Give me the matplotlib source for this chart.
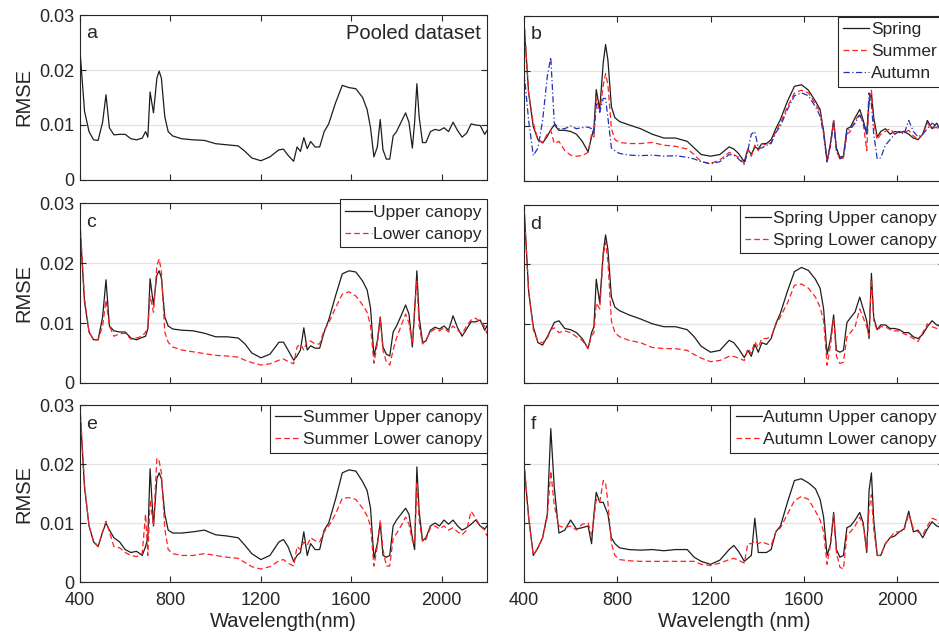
import matplotlib
matplotlib.use("Agg")
import matplotlib.pyplot as plt
import numpy as np

plt.rcParams['font.family'] = ['Liberation Sans', 'DejaVu Sans']

# wavelength grid (nm) shared by every curve
wavelength = [400, 420, 440, 460, 480, 500, 515, 530, 550, 575, 600, 625, 650, 675,
              690, 700, 710, 725, 740, 750, 760, 775, 790, 810,
              850, 900, 950, 1000, 1050, 1100, 1130, 1160, 1200,
              1240, 1280, 1300, 1320, 1345,
              1360, 1375, 1390, 1405, 1420, 1440, 1460, 1480, 1500,
              1530, 1560, 1590, 1620, 1650, 1670, 1685, 1700, 1715, 1728, 1740, 1755, 1770, 1785, 1800,
              1820, 1840, 1855, 1870, 1880, 1890, 1900, 1915, 1930, 1950,
              1970, 1990, 2010, 2030, 2050, 2070, 2090, 2110, 2130, 2150, 2170, 2190, 2200]

# a) pooled dataset
pooled = [0.0235, 0.0125, 0.0088, 0.0073, 0.0072, 0.0105, 0.0155, 0.0095, 0.0082, 0.0083, 0.0083, 0.0075, 0.0073, 0.0076,
          0.0088, 0.0078, 0.0160, 0.0122, 0.0185, 0.0198, 0.0185, 0.0115, 0.0088, 0.0080,
          0.0075, 0.0073, 0.0072, 0.0066, 0.0064, 0.0062, 0.0052, 0.0040, 0.0035,
          0.0042, 0.0055, 0.0056, 0.0045, 0.0034,
          0.0060, 0.0052, 0.0077, 0.0057, 0.0070, 0.0060, 0.0060, 0.0088, 0.0102,
          0.0140, 0.0172, 0.0168, 0.0166, 0.0150, 0.0128, 0.0095, 0.0042, 0.0060, 0.0110, 0.0055, 0.0038, 0.0038, 0.0080, 0.0088,
          0.0105, 0.0122, 0.0105, 0.0058, 0.0105, 0.0175, 0.0115, 0.0068, 0.0068, 0.0088,
          0.0092, 0.0090, 0.0095, 0.0088, 0.0105, 0.0090, 0.0078, 0.0085, 0.0102, 0.0100, 0.0099, 0.0083, 0.0090]

# b) seasons
spring = [0.0290, 0.0160, 0.0099, 0.0075, 0.0069, 0.0081, 0.0093, 0.0102, 0.0092, 0.0092, 0.0090, 0.0085, 0.0072, 0.0053,
          0.0080, 0.0095, 0.0166, 0.0130, 0.0215, 0.0248, 0.0220, 0.0135, 0.0115, 0.0108,
          0.0102, 0.0095, 0.0085, 0.0078, 0.0078, 0.0072, 0.0060, 0.0048, 0.0045,
          0.0048, 0.0062, 0.0058, 0.0050, 0.0035,
          0.0058, 0.0048, 0.0062, 0.0058, 0.0068, 0.0068, 0.0075, 0.0095, 0.0112,
          0.0145, 0.0172, 0.0175, 0.0165, 0.0145, 0.0130, 0.0090, 0.0035, 0.0070, 0.0110, 0.0060, 0.0043, 0.0045, 0.0095, 0.0098,
          0.0115, 0.0130, 0.0110, 0.0085, 0.0145, 0.0160, 0.0115, 0.0080, 0.0090, 0.0095,
          0.0085, 0.0090, 0.0088, 0.0090, 0.0085, 0.0078, 0.0075, 0.0085, 0.0110, 0.0095, 0.0105, 0.0090, 0.0090]
summer = [0.0294, 0.0160, 0.0105, 0.0075, 0.0070, 0.0085, 0.0092, 0.0068, 0.0072, 0.0055, 0.0047, 0.0045, 0.0046, 0.0052,
          0.0085, 0.0080, 0.0150, 0.0125, 0.0175, 0.0195, 0.0175, 0.0095, 0.0075, 0.0070,
          0.0068, 0.0068, 0.0070, 0.0065, 0.0063, 0.0058, 0.0048, 0.0035, 0.0032,
          0.0038, 0.0052, 0.0048, 0.0043, 0.0032,
          0.0058, 0.0045, 0.0065, 0.0055, 0.0068, 0.0065, 0.0070, 0.0090, 0.0105,
          0.0135, 0.0160, 0.0165, 0.0160, 0.0140, 0.0125, 0.0090, 0.0035, 0.0065, 0.0110, 0.0055, 0.0040, 0.0042, 0.0085, 0.0090,
          0.0110, 0.0122, 0.0105, 0.0055, 0.0145, 0.0165, 0.0105, 0.0075, 0.0085, 0.0090,
          0.0095, 0.0085, 0.0090, 0.0088, 0.0092, 0.0082, 0.0075, 0.0085, 0.0105, 0.0095, 0.0098, 0.0085, 0.0085]
autumn = [0.0200, 0.0110, 0.0046, 0.0060, 0.0110, 0.0190, 0.0225, 0.0105, 0.0095, 0.0095, 0.0100, 0.0095, 0.0097, 0.0098,
          0.0095, 0.0085, 0.0140, 0.0125, 0.0150, 0.0150, 0.0115, 0.0060, 0.0055, 0.0050,
          0.0047, 0.0046, 0.0047, 0.0045, 0.0046, 0.0043, 0.0040, 0.0035, 0.0031,
          0.0035, 0.0048, 0.0047, 0.0040, 0.0030,
          0.0055, 0.0085, 0.0090, 0.0060, 0.0060, 0.0065, 0.0068, 0.0088, 0.0100,
          0.0130, 0.0155, 0.0160, 0.0155, 0.0135, 0.0118, 0.0085, 0.0035, 0.0068, 0.0105, 0.0055, 0.0040, 0.0045, 0.0090, 0.0095,
          0.0105, 0.0120, 0.0105, 0.0085, 0.0160, 0.0140, 0.0085, 0.0040, 0.0042, 0.0065,
          0.0075, 0.0085, 0.0090, 0.0085, 0.0110, 0.0090, 0.0080, 0.0085, 0.0095, 0.0105, 0.0100, 0.0095, 0.0092]

# c) canopy layers
upper = [0.0260, 0.0135, 0.0085, 0.0072, 0.0072, 0.0110, 0.0172, 0.0095, 0.0087, 0.0085, 0.0085, 0.0075, 0.0072, 0.0076,
         0.0078, 0.0090, 0.0174, 0.0130, 0.0180, 0.0187, 0.0175, 0.0110, 0.0095, 0.0090,
         0.0088, 0.0087, 0.0083, 0.0077, 0.0077, 0.0075, 0.0065, 0.0050, 0.0042,
         0.0048, 0.0068, 0.0068, 0.0055, 0.0038,
         0.0045, 0.0055, 0.0092, 0.0055, 0.0062, 0.0058, 0.0058, 0.0085, 0.0105,
         0.0145, 0.0182, 0.0187, 0.0185, 0.0170, 0.0155, 0.0125, 0.0045, 0.0070, 0.0110, 0.0060, 0.0048, 0.0045, 0.0085, 0.0095,
         0.0112, 0.0130, 0.0115, 0.0060, 0.0120, 0.0187, 0.0110, 0.0068, 0.0070, 0.0088,
         0.0093, 0.0090, 0.0095, 0.0088, 0.0112, 0.0092, 0.0078, 0.0090, 0.0102, 0.0102, 0.0105, 0.0088, 0.0095]
lower = [0.0270, 0.0140, 0.0085, 0.0072, 0.0072, 0.0095, 0.0138, 0.0095, 0.0078, 0.0082, 0.0083, 0.0073, 0.0075, 0.0078,
         0.0085, 0.0090, 0.0145, 0.0118, 0.0195, 0.0207, 0.0185, 0.0085, 0.0068, 0.0060,
         0.0055, 0.0052, 0.0049, 0.0046, 0.0045, 0.0043, 0.0038, 0.0034, 0.0030,
         0.0032, 0.0038, 0.0040, 0.0036, 0.0032,
         0.0060, 0.0065, 0.0055, 0.0070, 0.0070, 0.0065, 0.0065, 0.0088, 0.0100,
         0.0125, 0.0148, 0.0152, 0.0145, 0.0130, 0.0118, 0.0095, 0.0033, 0.0065, 0.0108, 0.0055, 0.0035, 0.0030, 0.0055, 0.0075,
         0.0095, 0.0115, 0.0100, 0.0065, 0.0125, 0.0170, 0.0095, 0.0065, 0.0072, 0.0085,
         0.0090, 0.0087, 0.0092, 0.0085, 0.0095, 0.0088, 0.0082, 0.0095, 0.0105, 0.0108, 0.0102, 0.0095, 0.0082]

# d) spring upper / lower
spring_upper = [0.0300, 0.0155, 0.0095, 0.0068, 0.0064, 0.0078, 0.0090, 0.0102, 0.0105, 0.0092, 0.0090, 0.0085, 0.0075, 0.0058,
                0.0085, 0.0095, 0.0175, 0.0135, 0.0220, 0.0250, 0.0225, 0.0145, 0.0128, 0.0122,
                0.0115, 0.0108, 0.0100, 0.0095, 0.0095, 0.0090, 0.0078, 0.0062, 0.0052,
                0.0055, 0.0072, 0.0068, 0.0058, 0.0043,
                0.0055, 0.0045, 0.0065, 0.0052, 0.0068, 0.0065, 0.0075, 0.0100, 0.0118,
                0.0155, 0.0188, 0.0195, 0.0190, 0.0175, 0.0160, 0.0125, 0.0048, 0.0075, 0.0115, 0.0055, 0.0052, 0.0055, 0.0102, 0.0110,
                0.0120, 0.0145, 0.0125, 0.0105, 0.0075, 0.0185, 0.0110, 0.0090, 0.0098, 0.0098,
                0.0092, 0.0092, 0.0090, 0.0085, 0.0085, 0.0078, 0.0075, 0.0082, 0.0095, 0.0105, 0.0098, 0.0095, 0.0090]
spring_lower = [0.0300, 0.0155, 0.0090, 0.0070, 0.0068, 0.0075, 0.0090, 0.0093, 0.0085, 0.0088, 0.0085, 0.0078, 0.0072, 0.0058,
                0.0080, 0.0085, 0.0135, 0.0125, 0.0215, 0.0238, 0.0205, 0.0105, 0.0085, 0.0078,
                0.0072, 0.0068, 0.0060, 0.0058, 0.0058, 0.0055, 0.0048, 0.0042, 0.0036,
                0.0038, 0.0045, 0.0045, 0.0042, 0.0038,
                0.0058, 0.0050, 0.0070, 0.0060, 0.0075, 0.0075, 0.0078, 0.0098, 0.0112,
                0.0135, 0.0165, 0.0167, 0.0160, 0.0145, 0.0128, 0.0105, 0.0030, 0.0065, 0.0110, 0.0045, 0.0033, 0.0035, 0.0078, 0.0085,
                0.0095, 0.0125, 0.0110, 0.0095, 0.0080, 0.0175, 0.0105, 0.0088, 0.0095, 0.0095,
                0.0090, 0.0088, 0.0088, 0.0083, 0.0080, 0.0075, 0.0070, 0.0085, 0.0100, 0.0095, 0.0092, 0.0088, 0.0088]

# e) summer upper / lower
summer_upper = [0.0290, 0.0160, 0.0095, 0.0068, 0.0060, 0.0085, 0.0100, 0.0088, 0.0075, 0.0068, 0.0055, 0.0050, 0.0052, 0.0045,
                0.0060, 0.0075, 0.0192, 0.0095, 0.0175, 0.0185, 0.0175, 0.0115, 0.0088, 0.0083,
                0.0083, 0.0085, 0.0088, 0.0080, 0.0078, 0.0075, 0.0062, 0.0048, 0.0038,
                0.0045, 0.0068, 0.0072, 0.0060, 0.0035,
                0.0045, 0.0050, 0.0085, 0.0045, 0.0065, 0.0055, 0.0055, 0.0088, 0.0100,
                0.0140, 0.0185, 0.0190, 0.0188, 0.0170, 0.0155, 0.0125, 0.0040, 0.0065, 0.0100, 0.0045, 0.0042, 0.0045, 0.0095, 0.0105,
                0.0115, 0.0125, 0.0115, 0.0075, 0.0055, 0.0195, 0.0120, 0.0070, 0.0075, 0.0095,
                0.0100, 0.0095, 0.0105, 0.0098, 0.0105, 0.0095, 0.0088, 0.0092, 0.0098, 0.0105, 0.0095, 0.0090, 0.0095]
summer_lower = [0.0300, 0.0165, 0.0095, 0.0070, 0.0060, 0.0085, 0.0103, 0.0085, 0.0060, 0.0058, 0.0050, 0.0045, 0.0043, 0.0048,
                0.0115, 0.0045, 0.0140, 0.0095, 0.0210, 0.0205, 0.0185, 0.0090, 0.0055, 0.0048,
                0.0045, 0.0045, 0.0048, 0.0045, 0.0042, 0.0040, 0.0033, 0.0026, 0.0022,
                0.0026, 0.0036, 0.0038, 0.0032, 0.0027,
                0.0060, 0.0055, 0.0068, 0.0062, 0.0075, 0.0070, 0.0068, 0.0085, 0.0095,
                0.0115, 0.0142, 0.0143, 0.0140, 0.0125, 0.0112, 0.0095, 0.0027, 0.0060, 0.0105, 0.0055, 0.0027, 0.0027, 0.0075, 0.0082,
                0.0095, 0.0110, 0.0098, 0.0070, 0.0065, 0.0170, 0.0105, 0.0068, 0.0072, 0.0092,
                0.0095, 0.0090, 0.0095, 0.0088, 0.0092, 0.0085, 0.0080, 0.0088, 0.0120, 0.0108, 0.0095, 0.0088, 0.0078]

# f) autumn upper / lower
autumn_upper = [0.0200, 0.0110, 0.0045, 0.0058, 0.0075, 0.0115, 0.0260, 0.0160, 0.0083, 0.0088, 0.0105, 0.0090, 0.0092, 0.0095,
                0.0065, 0.0115, 0.0152, 0.0135, 0.0135, 0.0125, 0.0115, 0.0075, 0.0065, 0.0058,
                0.0055, 0.0054, 0.0055, 0.0053, 0.0055, 0.0055, 0.0042, 0.0035, 0.0030,
                0.0037, 0.0055, 0.0062, 0.0052, 0.0035,
                0.0040, 0.0045, 0.0108, 0.0050, 0.0050, 0.0050, 0.0055, 0.0085, 0.0095,
                0.0135, 0.0172, 0.0175, 0.0168, 0.0158, 0.0140, 0.0110, 0.0045, 0.0065, 0.0118, 0.0055, 0.0042, 0.0045, 0.0092, 0.0095,
                0.0105, 0.0118, 0.0100, 0.0050, 0.0155, 0.0185, 0.0105, 0.0045, 0.0045, 0.0065,
                0.0075, 0.0078, 0.0085, 0.0090, 0.0120, 0.0085, 0.0088, 0.0075, 0.0090, 0.0102, 0.0095, 0.0092, 0.0095]
autumn_lower = [0.0205, 0.0110, 0.0045, 0.0058, 0.0075, 0.0110, 0.0188, 0.0130, 0.0095, 0.0092, 0.0095, 0.0088, 0.0098, 0.0100,
                0.0080, 0.0108, 0.0140, 0.0135, 0.0172, 0.0168, 0.0135, 0.0065, 0.0045, 0.0038,
                0.0036, 0.0035, 0.0035, 0.0035, 0.0035, 0.0035, 0.0035, 0.0030, 0.0028,
                0.0032, 0.0038, 0.0040, 0.0037, 0.0032,
                0.0065, 0.0065, 0.0070, 0.0065, 0.0068, 0.0065, 0.0062, 0.0085, 0.0092,
                0.0115, 0.0138, 0.0145, 0.0140, 0.0120, 0.0105, 0.0085, 0.0030, 0.0065, 0.0115, 0.0050, 0.0025, 0.0022, 0.0080, 0.0085,
                0.0095, 0.0110, 0.0095, 0.0055, 0.0125, 0.0148, 0.0090, 0.0045, 0.0045, 0.0065,
                0.0075, 0.0085, 0.0085, 0.0088, 0.0115, 0.0090, 0.0085, 0.0080, 0.0095, 0.0108, 0.0105, 0.0105, 0.0110]

x_ticks = [400, 800, 1200, 1600, 2000]
y_ticks = [0, 0.01, 0.02, 0.03]
y_tick_labels = ['0', '0.01', '0.02', '0.03']

NEGRO = '#1e1e1e'
ROJO = '#ff2020'
AZUL = '#2233bb'


def preparar_eje(ax, letra, izquierda, abajo, xlabel):
    ax.set_xlim(400, 2200)
    ax.set_ylim(0, 0.03)
    ax.set_xticks(x_ticks)
    ax.set_yticks(y_ticks)
    ax.yaxis.grid(True, color='#e3e3e3', linewidth=0.9)
    ax.set_axisbelow(True)
    ax.tick_params(direction='in', top=True, right=True, length=4, width=0.8,
                   labelsize=13, colors='#262626')
    ax.tick_params(axis='x', pad=7)
    ax.tick_params(axis='y', pad=4)
    for sp in ax.spines.values():
        sp.set_color('#262626')
        sp.set_linewidth(0.8)
    if izquierda:
        ax.set_yticklabels(y_tick_labels)
        ax.set_ylabel('RMSE', fontsize=14.5, color='#262626', labelpad=4)
    else:
        ax.set_yticklabels([])
    if abajo:
        ax.set_xlabel(xlabel, fontsize=14.5, color='#262626', labelpad=2)
    else:
        ax.set_xticklabels([])
    ax.text(0.015, 0.89, letra, transform=ax.transAxes, fontsize=14,
            ha='left', va='center', color='#262626')


def poner_leyenda(ax, anclaje):
    leg = ax.legend(loc='upper right', bbox_to_anchor=anclaje, fontsize=12.5,
                    frameon=True, fancybox=False, edgecolor='#262626', framealpha=1,
                    borderpad=0.3, handlelength=1.5, handletextpad=0.1,
                    labelspacing=0.4, borderaxespad=0)
    leg.get_frame().set_linewidth(0.8)
    for t in leg.get_texts():
        t.set_color('#262626')


def main():
    fig = plt.figure(figsize=(9.39, 6.36), dpi=100)
    w = np.array(wavelength)

    izq = 0.0852
    der = 0.558
    ancho_izq = 0.4334
    ancho_der = 0.447

    ax_a = fig.add_axes([izq, 0.717, ancho_izq, 0.2594])
    ax_b = fig.add_axes([der, 0.7155, ancho_der, 0.2594])
    ax_c = fig.add_axes([izq, 0.3978, ancho_izq, 0.283])
    ax_d = fig.add_axes([der, 0.3978, ancho_der, 0.2795])
    ax_e = fig.add_axes([izq, 0.0849, ancho_izq, 0.2783])
    ax_f = fig.add_axes([der, 0.0849, ancho_der, 0.2783])

    lw = 0.9
    guion = (4.5, 2.5)
    guion_punto = (5, 2, 1, 2)

    # a
    ax_a.plot(w, pooled, color=NEGRO, lw=lw)
    preparar_eje(ax_a, 'a', True, False, '')
    ax_a.text(0.985, 0.89, 'Pooled dataset', transform=ax_a.transAxes, fontsize=14.5,
              ha='right', va='center', color='#262626')

    # b
    ax_b.plot(w, spring, color=NEGRO, lw=lw, label='Spring')
    ax_b.plot(w, summer, color=ROJO, lw=lw, dashes=guion, label='Summer')
    ax_b.plot(w, autumn, color=AZUL, lw=lw, dashes=guion_punto, label='Autumn')
    preparar_eje(ax_b, 'b', False, False, '')
    poner_leyenda(ax_b, (0.996, 0.995))

    # c
    ax_c.plot(w, upper, color=NEGRO, lw=lw, label='Upper canopy')
    ax_c.plot(w, lower, color=ROJO, lw=lw, dashes=guion, label='Lower canopy')
    preparar_eje(ax_c, 'c', True, False, '')
    poner_leyenda(ax_c, (1.0, 1.02))

    # d
    ax_d.plot(w, spring_upper, color=NEGRO, lw=lw, label='Spring Upper canopy')
    ax_d.plot(w, spring_lower, color=ROJO, lw=lw, dashes=guion, label='Spring Lower canopy')
    preparar_eje(ax_d, 'd', False, False, '')
    poner_leyenda(ax_d, (0.996, 1.0))

    # e
    ax_e.plot(w, summer_upper, color=NEGRO, lw=lw, label='Summer Upper canopy')
    ax_e.plot(w, summer_lower, color=ROJO, lw=lw, dashes=guion, label='Summer Lower canopy')
    preparar_eje(ax_e, 'e', True, True, 'Wavelength(nm)')
    poner_leyenda(ax_e, (1.0, 1.0))

    # f
    ax_f.plot(w, autumn_upper, color=NEGRO, lw=lw, label='Autumn Upper canopy')
    ax_f.plot(w, autumn_lower, color=ROJO, lw=lw, dashes=guion, label='Autumn Lower canopy')
    preparar_eje(ax_f, 'f', False, True, 'Wavelength (nm)')
    poner_leyenda(ax_f, (0.996, 1.0))

    fig.savefig('out.png', dpi=100)


main()
